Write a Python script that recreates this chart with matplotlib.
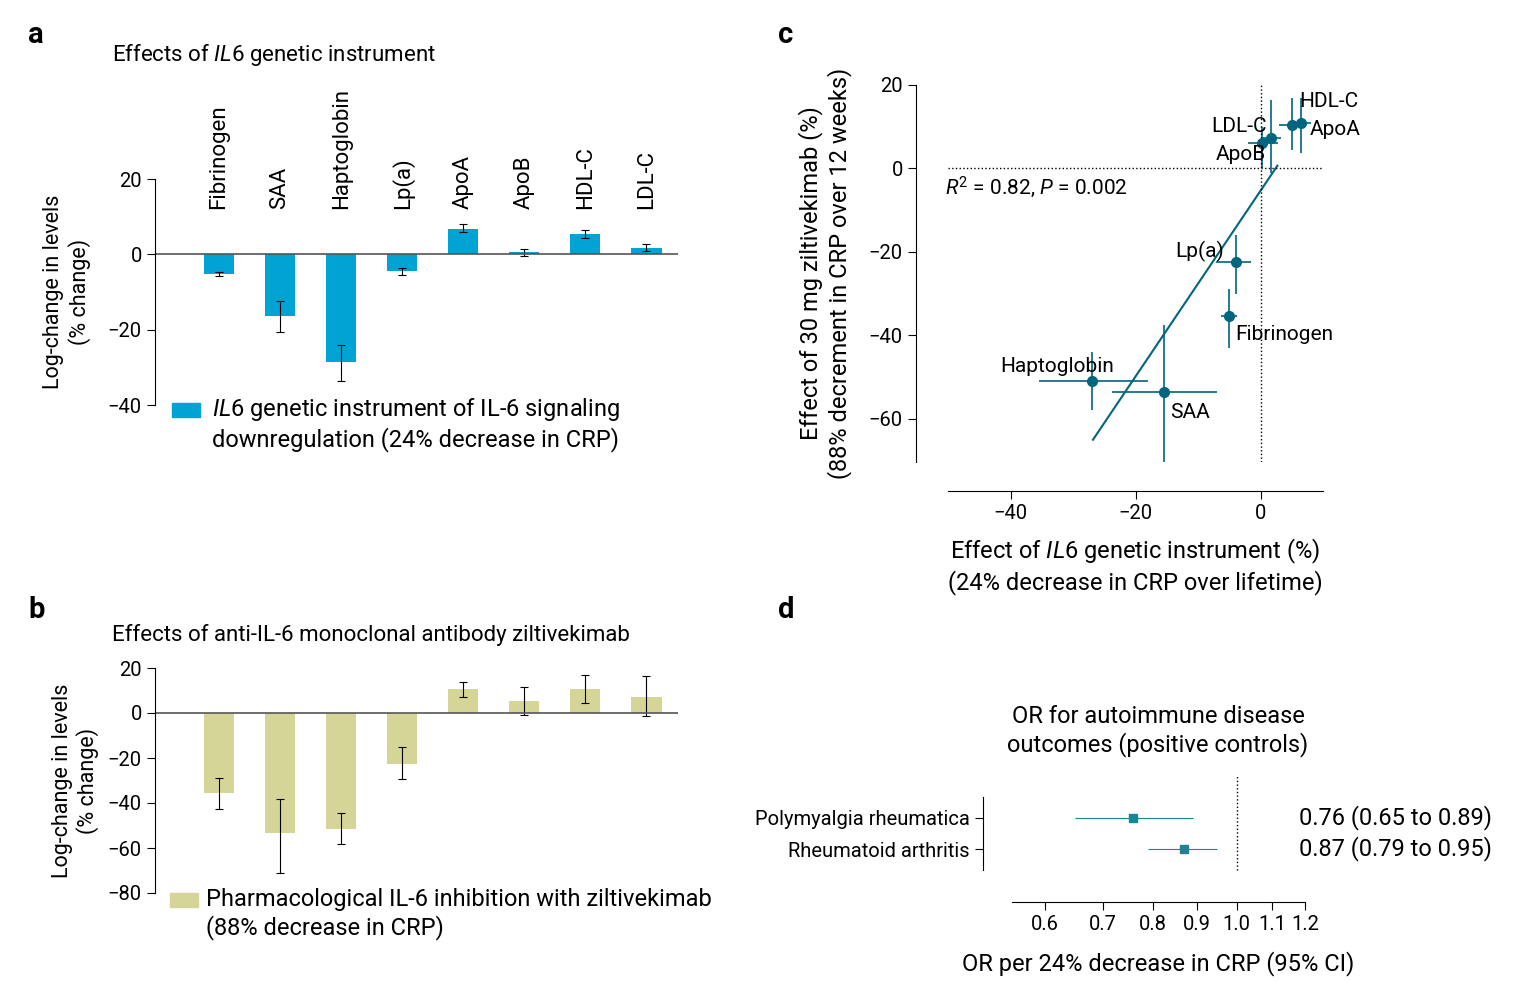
import numpy as np
import matplotlib
matplotlib.use("Agg")
import matplotlib.pyplot as plt
from matplotlib.patches import Rectangle
from matplotlib.ticker import FixedLocator, NullLocator, FixedFormatter

plt.rcParams['font.family'] = ['Roboto', 'DejaVu Sans']
plt.rcParams['mathtext.fontset'] = 'custom'
plt.rcParams['mathtext.it'] = 'Roboto:italic'
plt.rcParams['mathtext.rm'] = 'Roboto'

W, H = 1514, 982

markers = ["Fibrinogen", "SAA", "Haptoglobin", "Lp(a)", "ApoA", "ApoB", "HDL-C", "LDL-C"]

# panel a: genetic instrument
gen_val = [-5.2, -16.5, -28.5, -4.5, 6.8, 0.5, 5.3, 1.7]
gen_lo = [-5.8, -20.5, -33.5, -5.5, 5.8, -0.5, 4.3, 0.8]
gen_hi = [-4.6, -12.5, -24.0, -3.5, 8.0, 1.5, 6.5, 2.8]

# panel b: ziltivekimab
drug_val = [-35.5, -53.5, -51.5, -22.5, 10.5, 5.5, 10.5, 7.0]
drug_lo = [-42.5, -71.0, -58.0, -29.5, 7.0, -1.0, 4.5, -1.5]
drug_hi = [-29.0, -38.0, -44.5, -15.0, 14.0, 11.5, 17.0, 16.5]

# panel c: scatter
c_x = [-5.0, -15.5, -27.0, -4.0, 6.5, 0.3, 5.0, 1.6]
c_y = [-35.5, -53.5, -51.0, -22.5, 10.8, 6.0, 10.5, 7.4]
c_xlo = [-6.4, -23.8, -35.5, -7.2, 5.0, -2.0, 3.0, 0.0]
c_xhi = [-3.7, -6.9, -18.0, -1.6, 8.0, 2.8, 7.0, 3.2]
c_ylo = [-43.0, -71.0, -58.0, -30.0, 3.6, 0.0, 4.3, -1.0]
c_yhi = [-29.0, -37.6, -44.0, -16.0, 17.0, 10.0, 17.0, 16.5]
fit_range = [-26.8, 2.7]

# panel d: forest
outcomes = ["Polymyalgia rheumatica", "Rheumatoid arthritis"]
or_val = [0.76, 0.87]
or_lo = [0.65, 0.79]
or_hi = [0.89, 0.95]
or_ticks = [0.6, 0.7, 0.8, 0.9, 1.0, 1.1, 1.2]

col_a = "#00a3d4"
col_b = "#d6d598"
col_c = "#00657f"
col_d = "#1b8496"
fs = 14.5

fig = plt.figure(figsize=(W / 100, H / 100), dpi=100)


def px(l, t, r, b):
    return [l / W, 1 - b / H, (r - l) / W, (b - t) / H]


def bar_panel(rect, vals, lo, hi, color, ylim, yticks):
    ax = fig.add_axes(px(*rect))
    x = np.arange(len(vals))
    v = np.array(vals)
    ax.bar(x, v, width=0.5, color=color,
           yerr=[v - np.array(lo), np.array(hi) - v],
           error_kw=dict(ecolor="black", elinewidth=0.8, capsize=3, capthick=0.8))
    ax.axhline(0, color="#555555", lw=1.2)
    ax.set_xlim(-1.05, 7.52)
    ax.set_ylim(*ylim)
    ax.set_yticks(yticks)
    ax.set_xticks([])
    for s in ["top", "right", "bottom"]:
        ax.spines[s].set_visible(False)
    ax.tick_params(axis="y", labelsize=fs, length=6)
    return ax


axa = bar_panel((155, 179, 678, 405), gen_val, gen_lo, gen_hi, col_a, (-40, 20), [20, 0, -20, -40])
axa.set_ylabel("Log-change in levels\n(% change)", fontsize=fs + 1, labelpad=12)
for i, m in enumerate(markers):
    axa.text(i, 12, m, rotation=90, ha="center", va="bottom", fontsize=fs + 1.5)
fig.text(112 / W, 1 - 55 / H, r"Effects of $\it{IL6}$ genetic instrument", fontsize=fs + 1.5, va="center")
fig.patches.append(Rectangle((172 / W, 1 - 417 / H), 28 / W, 14 / H, color=col_a, transform=fig.transFigure))
fig.text(212 / W, 1 - 424 / H, "$\\it{IL6}$ genetic instrument of IL-6 signaling\ndownregulation (24% decrease in CRP)",
         fontsize=fs + 2.5, va="center", linespacing=1.2)

axb = bar_panel((155, 668, 678, 893), drug_val, drug_lo, drug_hi, col_b, (-80, 20), [20, 0, -20, -40, -60, -80])
axb.set_ylabel("Log-change in levels\n(% change)", fontsize=fs + 1, labelpad=6)
fig.text(112 / W, 1 - 635 / H, "Effects of anti-IL-6 monoclonal antibody ziltivekimab", fontsize=fs + 1.5, va="center")
fig.patches.append(Rectangle((170 / W, 1 - 907 / H), 28 / W, 14 / H, color=col_b, transform=fig.transFigure))
fig.text(206 / W, 1 - 914 / H, "Pharmacological IL-6 inhibition with ziltivekimab\n(88% decrease in CRP)",
         fontsize=fs + 2.5, va="center", linespacing=1.2)

# panel c
axc = fig.add_axes(px(948, 85, 1323, 462))
cx, cy = np.array(c_x), np.array(c_y)
axc.errorbar(cx, cy, xerr=[cx - np.array(c_xlo), np.array(c_xhi) - cx],
             yerr=[cy - np.array(c_ylo), np.array(c_yhi) - cy],
             fmt="o", color=col_c, ms=7, elinewidth=1.2, capsize=0)
k, b0 = np.polyfit(cx, cy, 1)
xl = np.array(fit_range)
axc.plot(xl, k * xl + b0, color=col_c, lw=1.5)
axc.axhline(0, color="black", ls=":", lw=1)
axc.axvline(0, color="black", ls=":", lw=1)
axc.set_xlim(-50, 10)
axc.set_ylim(-70.4, 20)
axc.set_xticks([-40, -20, 0])
axc.set_yticks([20, 0, -20, -40, -60])
axc.spines["top"].set_visible(False)
axc.spines["right"].set_visible(False)
axc.spines["left"].set_position(("outward", 23))
axc.spines["bottom"].set_position(("outward", 21))
axc.tick_params(labelsize=fs, length=6)
axc.set_xlabel("Effect of $\\it{IL6}$ genetic instrument (%)\n(24% decrease in CRP over lifetime)",
               fontsize=fs + 2.5, labelpad=10, linespacing=1.2)
axc.set_ylabel("Effect of 30 mg ziltivekimab (%)\n(88% decrement in CRP over 12 weeks)",
               fontsize=fs + 2.5, labelpad=12, linespacing=1.2)
lab = {"HDL-C": (6.2, 16, "left"), "ApoA": (7.8, 9.4, "left"), "LDL-C": (1.0, 10, "right"),
       "ApoB": (0.8, 3.4, "right"), "Lp(a)": (-5.9, -20, "right"), "Fibrinogen": (-4.1, -39.8, "left"),
       "Haptoglobin": (-41.6, -47.5, "left"), "SAA": (-14.5, -58.5, "left")}
for m, (tx, ty, ha) in lab.items():
    axc.text(tx, ty, m, ha=ha, va="center", fontsize=fs + 0.5)
axc.text(-50.5, -4.5, "$\\it{R}^2$ = 0.82, $\\it{P}$ = 0.002", fontsize=fs + 0.5, va="center")

# panel d
axd = fig.add_axes(px(1012, 797, 1305, 870))
yy = np.arange(len(outcomes))[::-1]
ov = np.array(or_val)
axd.errorbar(ov, yy, xerr=[ov - np.array(or_lo), np.array(or_hi) - ov], fmt="s",
             color=col_d, ms=6, elinewidth=0.8, capsize=0)
axd.axvline(1.0, color="black", ls=":", lw=1, ymax=1.3, clip_on=False)
axd.set_xscale("log")
axd.set_xlim(0.55, 1.2)
axd.xaxis.set_major_locator(FixedLocator(or_ticks))
axd.xaxis.set_major_formatter(FixedFormatter([f"{t:.1f}" for t in or_ticks]))
axd.xaxis.set_minor_locator(NullLocator())
axd.set_ylim(-0.677, 1.677)
axd.set_yticks(yy)
axd.set_yticklabels(outcomes)
axd.spines["top"].set_visible(False)
axd.spines["right"].set_visible(False)
axd.spines["left"].set_position(("outward", 21))
axd.spines["bottom"].set_position(("outward", 23))
axd.tick_params(labelsize=fs, length=6)
axd.set_xlabel("OR per 24% decrease in CRP (95% CI)", fontsize=fs + 2.5, labelpad=12)
for y, v, l, h in zip(yy, or_val, or_lo, or_hi):
    axd.text(1.18, y, f"{v:.2f} ({l:.2f} to {h:.2f})", fontsize=fs + 2.5, va="center")
fig.text(1158 / W, 1 - 731 / H, "OR for autoimmune disease\noutcomes (positive controls)",
         fontsize=fs + 2.5, ha="center", va="center", linespacing=1.2)

for t, (x, y) in zip("abcd", [(28, 35), (28, 610), (778, 35), (778, 610)]):
    fig.text(x / W, 1 - y / H, t, fontsize=21, fontweight="bold", va="center")

fig.savefig("out.png", dpi=100)
